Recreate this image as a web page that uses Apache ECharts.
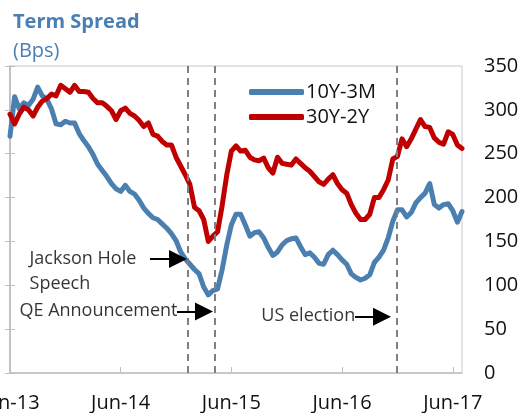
<!DOCTYPE html>
<html><head><meta charset="utf-8">
<script src="https://cdn.jsdelivr.net/npm/echarts@6/dist/echarts.min.js"></script>
<style>html,body{margin:0;padding:0;background:#fff}#c{width:521px;height:413px}</style>
</head><body><div id="c"></div>
<script>
const dates = [
'2013-06-01','2013-06-16','2013-07-01','2013-07-16','2013-08-01','2013-08-16','2013-09-01','2013-09-16','2013-10-01','2013-10-16','2013-11-01','2013-11-16','2013-12-01','2013-12-16',
'2014-01-01','2014-01-16','2014-02-01','2014-02-16','2014-03-01','2014-03-16','2014-04-01','2014-04-16','2014-05-01','2014-05-16','2014-06-01','2014-06-16','2014-07-01','2014-07-16','2014-08-01','2014-08-16','2014-09-01','2014-09-16','2014-10-01','2014-10-16','2014-11-01','2014-11-16','2014-12-01','2014-12-16',
'2015-01-01','2015-01-16','2015-02-01','2015-02-16','2015-03-01','2015-03-16','2015-04-01','2015-04-16','2015-05-01','2015-05-16','2015-06-01','2015-06-16','2015-07-01','2015-07-16','2015-08-01','2015-08-16','2015-09-01','2015-09-16','2015-10-01','2015-10-16','2015-11-01','2015-11-16','2015-12-01','2015-12-16',
'2016-01-01','2016-01-16','2016-02-01','2016-02-16','2016-03-01','2016-03-16','2016-04-01','2016-04-16','2016-05-01','2016-05-16','2016-06-01','2016-06-16','2016-07-01','2016-07-16','2016-08-01','2016-08-16','2016-09-01','2016-09-16','2016-10-01','2016-10-16','2016-11-01','2016-11-16','2016-12-01','2016-12-16',
'2017-01-01','2017-01-16','2017-02-01','2017-02-16','2017-03-01','2017-03-16','2017-04-01','2017-04-16','2017-05-01','2017-05-16','2017-06-01','2017-06-16','2017-07-01'
];
const spread10y3m = [
270,315,301,308,305,312,326,316,312,301,
284,283,287,285,285,273,265,258,249,238,
231,224,216,210,207,214,207,204,197,188,
182,177,175,170,165,159,151,138,130,124,
118,113,98,89,94,96,118,146,169,181,
181,169,156,160,161,154,143,134,138,146,
151,153,154,144,135,137,132,125,124,135,
140,135,129,124,113,109,106,108,112,126,
132,140,154,173,186,186,178,183,194,200,
205,216,192,188,192,193,185,172,184
];
const spread30y2y = [
295,284,295,303,300,293,303,310,313,318,
316,328,324,320,328,321,321,320,313,308,
308,304,299,289,299,302,296,293,288,281,
285,272,270,264,260,260,246,236,226,215,
189,185,175,150,156,161,191,226,253,259,
253,254,246,243,242,245,234,228,246,239,
238,237,244,239,234,230,224,218,215,221,
226,216,209,205,192,182,175,175,181,200,
200,209,220,244,247,267,258,267,278,289,
281,280,268,263,261,275,272,260,256
];
const seriesNames = ['10Y-3M','30Y-2Y'];
const xTickLabels = ['Jun-13','Jun-14','Jun-15','Jun-16','Jun-17'];
// event positions in months since Jun-13 (as drawn)
const eventPositions = [19.3, 22.22, 41.96];
const annotationTexts = ['Jackson Hole\nSpeech','QE Announcement','US election'];
const annotationAnchors = [[2.17,115],[1.08,70],[27.3,64]];
const arrowStarts = [[15.18,130],[18.1,70],[37.4,64]];
const arrowEnds = [[18.21,130],[21.03,70],[40.33,64]];

function toMonth(d){const p=d.split('-').map(Number);return (p[0]-2013)*12+(p[1]-6)+(p[2]-1)/30;}
const FONT='Open Sans';
const chart = echarts.init(document.getElementById('c'));
chart.setOption({
  animation:false,
  textStyle:{fontFamily:FONT},
  title:[
    {text:'Term Spread',left:8,top:7,textStyle:{fontFamily:FONT,fontSize:20,fontWeight:'bold',color:'#4a7fb5'}},
    {text:'(Bps)',left:8,top:36,textStyle:{fontFamily:FONT,fontSize:20,fontWeight:'normal',color:'#4a7fb5'}}
  ],
  legend:{data:seriesNames,orient:'vertical',left:244,top:77,itemGap:5,itemWidth:55,itemHeight:6,icon:'roundRect',
    textStyle:{fontFamily:FONT,fontSize:20,color:'#111',padding:[0,0,0,-3]}},
  grid:{left:10,right:59,top:66,bottom:40,show:true,borderColor:'#c8c8c8',borderWidth:1,outerBoundsMode:'none',containLabel:false},
  xAxis:{type:'value',min:0,max:49,interval:12,
    axisLine:{lineStyle:{color:'#c0c0c0',width:1.5}},
    axisTick:{inside:true,length:6,lineStyle:{color:'#c0c0c0'}},
    splitLine:{show:false},
    axisLabel:{margin:20,fontFamily:FONT,fontSize:20,color:'#111',showMaxLabel:false,hideOverlap:false,
      formatter:v=>xTickLabels[Math.round(v/12)]||''}},
  yAxis:[
    {type:'value',position:'right',min:0,max:350,interval:50,
     axisLine:{show:true,lineStyle:{color:'#c0c0c0',width:1.5}},
     axisTick:{show:true,inside:true,length:5,lineStyle:{color:'#c0c0c0'}},
     splitLine:{show:false},
     axisLabel:{margin:22,fontFamily:FONT,fontSize:20,color:'#111'}},
    {type:'value',position:'left',min:0,max:350,interval:50,
     axisLine:{show:true,lineStyle:{color:'#c0c0c0',width:1.5}},
     axisTick:{show:true,inside:true,length:5,lineStyle:{color:'#c0c0c0'}},
     splitLine:{show:false},axisLabel:{show:false}}
  ],
  series:[
    {name:seriesNames[0],type:'line',showSymbol:false,symbol:'none',
     data:dates.map((d,i)=>[toMonth(d),spread10y3m[i]]),
     color:'#4a7fb0',lineStyle:{width:5,color:'#4a7fb0',cap:'round',join:'round'},
     markLine:{silent:true,symbol:'none',label:{show:false},
       lineStyle:{type:[7,5],color:'#808080',width:2},
       data:eventPositions.map(v=>({xAxis:v}))}},
    {name:seriesNames[1],type:'line',showSymbol:false,symbol:'none',
     data:dates.map((d,i)=>[toMonth(d),spread30y2y[i]]),
     color:'#c00000',lineStyle:{width:5,color:'#c00000',cap:'round',join:'round'}},
    {name:'annotations',type:'scatter',symbolSize:1,itemStyle:{color:'rgba(0,0,0,0)'},silent:true,
     data:annotationAnchors.map((a,i)=>({value:a,label:{formatter:annotationTexts[i]}})),
     label:{show:true,position:[0,0],align:'left',verticalAlign:'middle',lineHeight:25,
       fontFamily:FONT,fontSize:18,color:'#000'},
     markLine:{silent:true,symbol:['none','triangle'],symbolSize:18,label:{show:false},
       lineStyle:{type:'solid',color:'#000',width:2},
       data:arrowStarts.map((s,i)=>[{coord:s},{coord:arrowEnds[i]}])}}
  ]
});
</script></body></html>
